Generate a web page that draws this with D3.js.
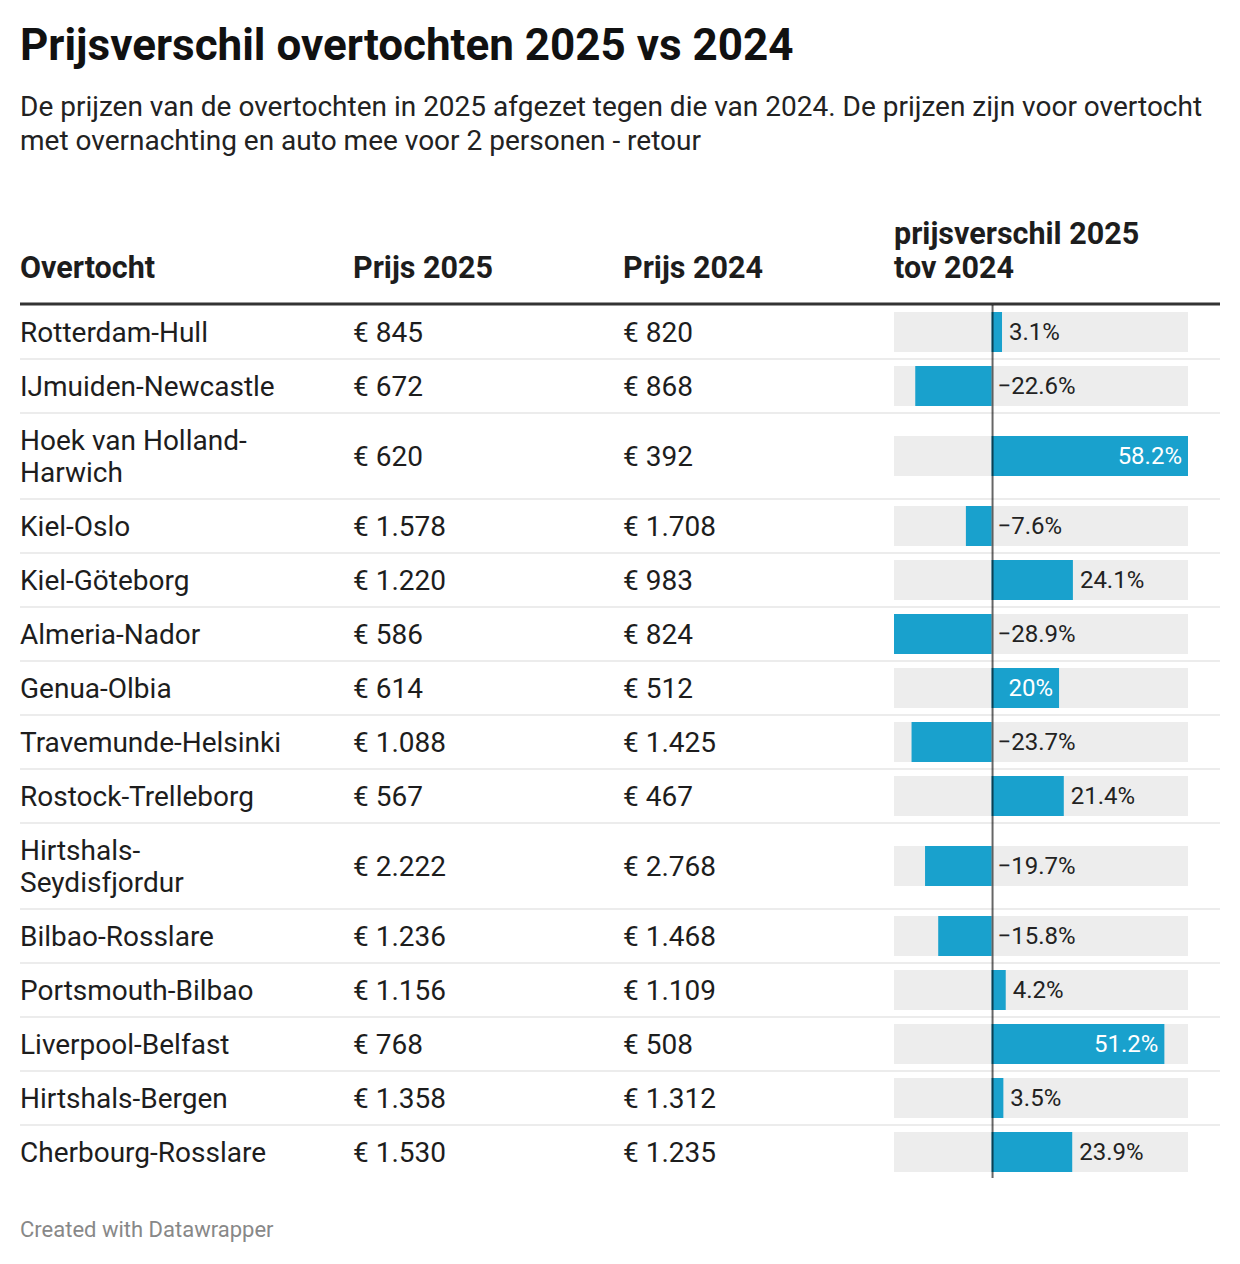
<!DOCTYPE html>
<html><head><meta charset="utf-8">
<script src="https://cdn.jsdelivr.net/npm/d3@7"></script>
<style>
body{margin:0;background:#fff;}
svg text{font-family:Roboto,"Noto Sans",sans-serif;}
</style></head>
<body><svg id="c" width="1240" height="1264"></svg>
<script>
const routes = ["Rotterdam-Hull","IJmuiden-Newcastle","Hoek van Holland-Harwich","Kiel-Oslo","Kiel-Göteborg","Almeria-Nador","Genua-Olbia","Travemunde-Helsinki","Rostock-Trelleborg","Hirtshals-Seydisfjordur","Bilbao-Rosslare","Portsmouth-Bilbao","Liverpool-Belfast","Hirtshals-Bergen","Cherbourg-Rosslare"];
const price2025 = [845,672,620,1578,1220,586,614,1088,567,2222,1236,1156,768,1358,1530];
const price2024 = [820,868,392,1708,983,824,512,1425,467,2768,1468,1109,508,1312,1235];
const diffPct = [3.1,-22.6,58.2,-7.6,24.1,-28.9,20,-23.7,21.4,-19.7,-15.8,4.2,51.2,3.5,23.9];
const headers = ["Overtocht","Prijs 2025","Prijs 2024","prijsverschil 2025\ntov 2024"];

const svg = d3.select("#c");
const loc = d3.formatLocale({decimal:",",thousands:".",grouping:[3],currency:["€ ",""]});
const fmtPrice = loc.format("$,.0f");
const fmtPct = v => d3.format(".1~f")(v) + "%";

svg.append("text").attr("x",20).attr("y",60).attr("font-size",44).attr("font-weight",700).attr("fill","#111")
  .text("Prijsverschil overtochten 2025 vs 2024");
const sub = ["De prijzen van de overtochten in 2025 afgezet tegen die van 2024. De prijzen zijn voor overtocht","met overnachting en auto mee voor 2 personen - retour"];
svg.append("text").attr("font-size",28).attr("fill","#222").selectAll("tspan").data(sub).join("tspan")
  .attr("x",20).attr("y",(d,i)=>116+i*34).text(d=>d);

const colX = [20,353,623,894];
const hdr = svg.append("g").attr("font-size",30.5).attr("font-weight",700).attr("fill","#1d1d1d");
headers.forEach((h,i)=>{
  const lines = h.split("\n");
  lines.forEach((l,j)=>{
    hdr.append("text").attr("x",colX[i]).attr("y",278 - (lines.length-1-j)*34).text(l);
  });
});

const measure = svg.append("text").attr("font-size",28).attr("opacity",0);
const maxW = 275;
const labelLines = routes.map(r=>{
  measure.text(r);
  if (measure.node().getComputedTextLength() > maxW && r.indexOf("-")>0) {
    const k = r.indexOf("-");
    return [r.slice(0,k+1), r.slice(k+1)];
  }
  return [r];
});
measure.remove();

const rowH = labelLines.map(l => 54 + (l.length-1)*32);
const tops = []; let y = 305;
rowH.forEach(h=>{tops.push(y); y+=h;});
const tableBottom = y;

const x = d3.scaleLinear().domain([d3.min(diffPct), d3.max(diffPct)]).range([894,1188]);

const rows = svg.append("g").selectAll("g").data(routes).join("g")
  .attr("transform",(d,i)=>`translate(0,${tops[i]})`);

rows.filter((d,i)=>i<routes.length-1).append("rect")
  .attr("x",20).attr("width",1200).attr("y",(d,i)=>rowH[i]-1).attr("height",2).attr("fill","#ececec");

rows.each(function(d,i){
  const g = d3.select(this);
  const cy = rowH[i]/2;
  const lines = labelLines[i];
  g.append("text").attr("font-size",28).attr("fill","#1d1d1d").selectAll("tspan").data(lines).join("tspan")
    .attr("x",20).attr("y",(l,j)=>cy + (j-(lines.length-1)/2)*32).attr("dy","0.35em").text(l=>l);
  g.append("text").attr("font-size",28).attr("fill","#1d1d1d").attr("x",353).attr("y",cy).attr("dy","0.35em").text(fmtPrice(price2025[i]));
  g.append("text").attr("font-size",28).attr("fill","#1d1d1d").attr("x",623).attr("y",cy).attr("dy","0.35em").text(fmtPrice(price2024[i]));
  g.append("rect").attr("x",x.range()[0]).attr("width",x.range()[1]-x.range()[0]).attr("y",cy-20).attr("height",40).attr("fill","#ededed");
  const v = diffPct[i];
  const x0 = x(0), x1 = x(v);
  g.append("rect").attr("x",Math.min(x0,x1)).attr("width",Math.abs(x1-x0)).attr("y",cy-20).attr("height",40).attr("fill","#19a1cd");
  const t = g.append("text").attr("font-size",24).attr("y",cy).attr("dy","0.35em").text(fmtPct(v));
  const tw = t.node().getComputedTextLength();
  const bw = Math.abs(x1-x0);
  if (v>0 && tw < 0.72*bw) {
    t.attr("x",x1-6).attr("text-anchor","end").attr("fill","#fff");
  } else if (v>0) {
    t.attr("x",x1+7).attr("fill","#222");
  } else {
    t.attr("x",x0+6).attr("fill","#222");
  }
});

svg.append("rect").attr("x",20).attr("width",1200).attr("y",302.5).attr("height",3).attr("fill","#333");
svg.append("line").attr("x1",x(0)+1).attr("x2",x(0)+1).attr("y1",305).attr("y2",tableBottom-1)
  .attr("stroke","#000").attr("stroke-opacity",0.6).attr("stroke-width",2);

svg.append("text").attr("x",20).attr("y",1237).attr("font-size",22).attr("fill","#888").text("Created with Datawrapper");
</script></body></html>
